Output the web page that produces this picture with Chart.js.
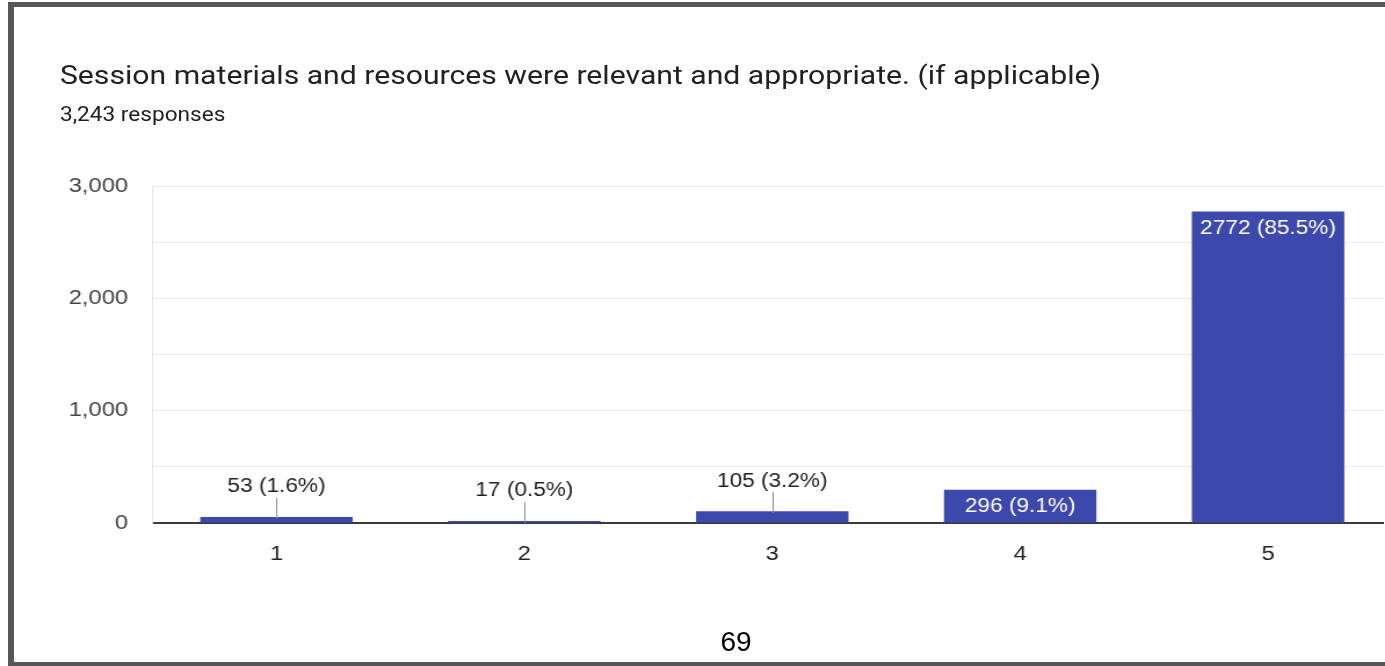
<!DOCTYPE html>
<html>
<head>
<meta charset="utf-8">
<script src="https://cdn.jsdelivr.net/npm/chart.js@4.4.1/dist/chart.umd.min.js"></script>
<style>
  html, body { margin: 0; padding: 0; background: #fff; overflow: hidden; width: 1385px; height: 666px; }
  #page { position: absolute; left: 0; top: 0; width: 1385px; height: 666px; overflow: hidden; background: #fff; }
  #frame {
    position: absolute; left: 8px; top: 2px; width: 1377px; height: 666px;
    box-sizing: border-box; border-left: 6px solid #575757; border-top: 5px solid #575757;
    border-bottom: 6px solid #575757;
  }
  /* the chart screenshot in the reference is stretched horizontally */
  #stretch {
    position: absolute; left: 0; top: 0; width: 1193px; height: 666px; overflow: hidden;
    transform: scaleX(1.16); transform-origin: 0 0;
  }
  #title {
    position: absolute; left: 51.7px; top: 62px; white-space: nowrap;
    font: 26px/26px Roboto, sans-serif; color: #202124;
  }
  #subtitle {
    position: absolute; left: 51.7px; top: 104.5px; white-space: nowrap;
    font: 19.5px/19.5px Roboto, sans-serif; color: #202124;
  }
  #chartCanvas { position: absolute; left: 0; top: 0; }
  #pageNo {
    position: absolute; left: 0; width: 1472px; top: 628px; text-align: center;
    font: 28px/28px "Liberation Sans", Arial, sans-serif; color: #000;
  }
</style>
</head>
<body>
<div id="page">
  <div id="frame"></div>
  <div id="stretch">
    <div id="title">Session materials and resources were relevant and appropriate. (if applicable)</div>
    <div id="subtitle">3,243 responses</div>
    <canvas id="chartCanvas" width="1230" height="666"></canvas>
  </div>
  <div id="pageNo">69</div>
</div>
<script>
// Chart data
const categories = ['1', '2', '3', '4', '5'];
const responseCounts = [53, 17, 105, 296, 2772];
const percentLabels = ['1.6%', '0.5%', '3.2%', '9.1%', '85.5%'];
const yMax = 3000;
const yStep = 500;
const yLabelEvery = 1000;

const labelFont = '19.5px "Liberation Sans", Arial, sans-serif';

// Draws "count (pct)" labels, inside tall bars, above short ones with a leader line
const barLabels = {
  id: 'barLabels',
  afterDatasetsDraw(chart) {
    const ctx = chart.ctx;
    const meta = chart.getDatasetMeta(0);
    ctx.save();
    ctx.font = labelFont;
    ctx.textAlign = 'center';
    ctx.textBaseline = 'middle';
    meta.data.forEach((bar, i) => {
      const text = responseCounts[i] + ' (' + percentLabels[i] + ')';
      const h = bar.base - bar.y;
      if (h > 25) {
        ctx.fillStyle = '#ffffff';
        ctx.fillText(text, bar.x, bar.y + 17);
      } else {
        const lx = Math.round(bar.x) + 0.5;
        ctx.strokeStyle = '#8c8c8c';
        ctx.lineWidth = 1;
        ctx.beginPath();
        ctx.moveTo(lx, bar.y - 19);
        ctx.lineTo(lx, bar.y + 2);
        ctx.stroke();
        ctx.fillStyle = '#222222';
        ctx.fillText(text, bar.x, bar.y - 30);
      }
    });
    ctx.restore();
  }
};

const ctx = document.getElementById('chartCanvas').getContext('2d');
const chart = new Chart(ctx, {
  type: 'bar',
  data: {
    labels: categories,
    datasets: [{
      data: responseCounts,
      backgroundColor: '#3c48ab',
      borderWidth: 0,
      categoryPercentage: 1,
      barPercentage: 0.615
    }]
  },
  options: {
    responsive: false,
    animation: false,
    layout: {
      padding: { top: 186, right: 30, bottom: 83, left: 0 }
    },
    scales: {
      x: {
        afterFit: (scale) => { scale.height = 60; },
        grid: { display: false, drawTicks: false },
        border: { display: true, color: '#3a3a3a', width: 2 },
        ticks: {
          padding: 19,
          color: '#222222',
          font: { family: '"Liberation Sans", Arial, sans-serif', size: 20.5 }
        }
      },
      y: {
        min: 0,
        max: yMax,
        afterFit: (scale) => { scale.width = 131.5; },
        grid: { color: '#ebebeb', lineWidth: 1, drawTicks: false },
        border: { display: true, color: '#e4e4e4', width: 1 },
        ticks: {
          stepSize: yStep,
          padding: 21,
          color: '#444444',
          font: { family: '"Liberation Sans", Arial, sans-serif', size: 20.5 },
          callback: (v) => (v % yLabelEvery === 0 ? v.toLocaleString('en-US') : '')
        }
      }
    },
    plugins: {
      legend: { display: false },
      tooltip: { enabled: false }
    }
  },
  plugins: [barLabels]
});
</script>
</body>
</html>
